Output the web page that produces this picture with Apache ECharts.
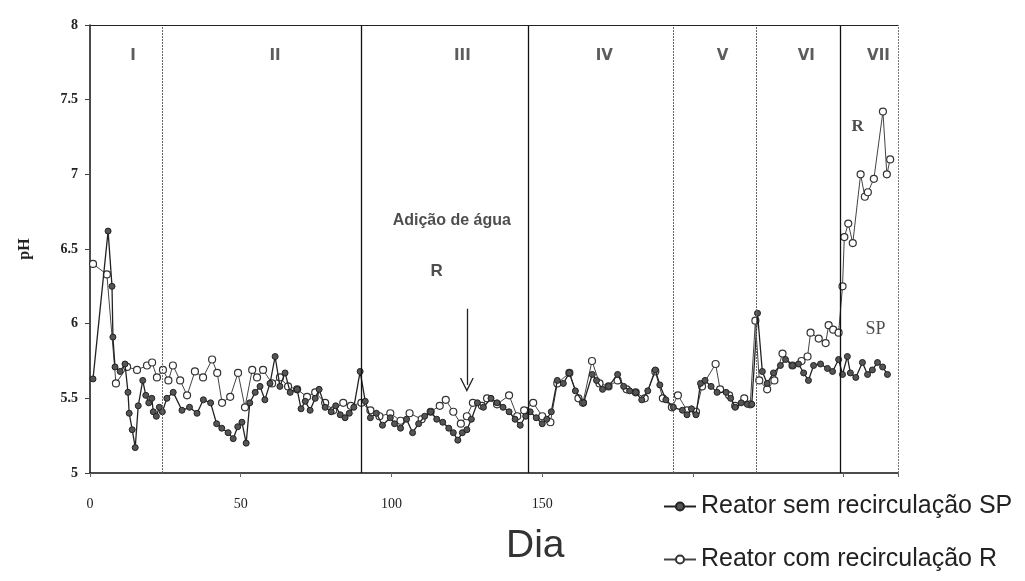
<!DOCTYPE html>
<html>
<head>
<meta charset="utf-8">
<script src="https://cdn.jsdelivr.net/npm/echarts@6/dist/echarts.min.js"></script>
<style>
html,body{margin:0;padding:0;background:#fff;}
#chart{width:1025px;height:581px;}
</style>
</head>
<body>
<div id="chart"></div>
<script>
// Reator sem recirculação (SP): [dia, pH]
const spData = [
  [1,5.63],[6,6.62],[7.3,6.25],[7.6,5.91],[8.3,5.71],[10,5.68],[11.6,5.73],[12.6,5.54],[13,5.4],[14,5.29],[15,5.17],[16,5.45],[17.5,5.62],[18.5,5.52],[19.5,5.47],[20.5,5.5],[21,5.41],[22,5.38],[23,5.44],[24,5.41],
  [25.5,5.5],[27.6,5.54],[30.5,5.42],[33,5.44],[35.5,5.4],[37.6,5.49],[40,5.47],[42,5.33],[43.7,5.3],[45.8,5.27],[47.5,5.23],[49,5.31],[50.4,5.34],[51.8,5.2],[53,5.47],[54.8,5.54],[56.4,5.58],[58,5.49],[59.7,5.6],[61.4,5.78],[63,5.58],[64.7,5.67],[66.4,5.54],[68.7,5.56],[70,5.43],[71.4,5.48],[73,5.42],[74.7,5.5],[76,5.56],[78,5.44],[80,5.41],[81.5,5.45],[83,5.39],[84.6,5.37],[86,5.4],[87.5,5.44],[89.6,5.68],
  [91.3,5.48],[93,5.37],[95,5.4],[97,5.32],[99.6,5.37],[101,5.33],[103,5.3],[105,5.36],[107,5.27],[109,5.33],[111,5.38],[113,5.41],[115,5.36],[117,5.34],[119,5.3],[120.5,5.27],[122,5.22],[123.5,5.27],[125,5.29],[126.5,5.36],[128.5,5.47],[130.5,5.44],[133,5.5],[135,5.47],[137,5.44],[139,5.41],[141,5.36],[142.7,5.32],[144.5,5.38],[146,5.41],[148,5.37],[150,5.33],[151.5,5.36],[153,5.41],
  [155,5.62],[157,5.6],[159,5.67],[161,5.55],[163.7,5.47],[166.6,5.66],[168,5.62],[170,5.56],[172,5.58],[175,5.66],[177,5.58],[179,5.55],[181,5.54],[183,5.49],[185,5.55],[187.5,5.69],[189,5.59],[191,5.49],[193.5,5.44],
  [196.5,5.42],[198,5.39],[199.5,5.43],[201,5.39],[202.5,5.6],[204,5.62],[206,5.58],[208,5.54],[211,5.54],[212.5,5.5],[214,5.44],[216,5.47],[218,5.46],[219.5,5.46],[221.4,6.07],
  [223,5.68],[224.6,5.6],[226.7,5.67],[229,5.72],[230.7,5.76],[233,5.72],[235,5.73],[236.7,5.67],[238.3,5.62],[240,5.72],[242.3,5.73],[244.6,5.7],[246.3,5.68],[248.3,5.76],
  [249.6,5.66],[251.2,5.78],[252.2,5.67],[254,5.64],[256.2,5.74],[257.9,5.66],[259.5,5.69],[261.2,5.74],[262.9,5.71],[264.5,5.66]
];
// Reator com recirculação (R): [dia, pH]
const rData = [
  [1,6.4],[5.6,6.33],[8.6,5.6],[12.3,5.71],[15.6,5.69],[18.9,5.72],[20.6,5.74],[22.2,5.64],[24.2,5.69],[26,5.62],[27.5,5.72],[29.9,5.62],[32.2,5.52],[34.8,5.68],[37.5,5.64],[40.5,5.76],[42.2,5.67],[43.8,5.47],[46.5,5.51],[49.1,5.67],[51.4,5.44],[53.8,5.69],[55.4,5.64],[57.4,5.69],[60.4,5.6],[63,5.64],[65.7,5.58],[68.7,5.56],[72,5.51],[74.7,5.54],[78,5.47],[80.7,5.42],[84,5.47],[86.5,5.45],
  [90,5.47],[93,5.42],[96,5.38],[99.6,5.4],[103,5.35],[106,5.4],[110,5.36],[113,5.41],[116,5.45],[118,5.49],[120.5,5.41],[123,5.33],[125,5.38],[127,5.47],[130,5.45],[131.7,5.5],[135,5.46],[139,5.52],[141.7,5.38],[144,5.42],[147,5.47],[150,5.38],[152.7,5.34],
  [155,5.6],[159,5.67],[162,5.5],[163.5,5.47],[166.5,5.75],[169,5.6],[172,5.58],[175,5.62],[178,5.56],[181,5.54],[184,5.5],[187.5,5.68],[190,5.5],[193,5.44],[195,5.52],[198,5.42],[201,5.41],[203,5.58],[207.5,5.73],[209,5.56],[212,5.52],[214,5.45],[217,5.5],[219,5.46],[220.7,6.02],
  [222,5.62],[224.6,5.56],[227,5.62],[229.7,5.8],[233,5.72],[236,5.75],[238,5.78],[239,5.94],[241.7,5.9],[244,5.87],[245,5.99],[246.5,5.96],[248.3,5.94],
  [249.6,6.25],[250.2,6.58],[251.5,6.67],[253,6.54],[255.6,7.0],[257,6.85],[258,6.88],[260,6.97],[263,7.42],[264.3,7.0],[265.4,7.1]
];
// Phase boundaries (days) and labels
const phaseBounds = [24, 90, 145.4, 193.5, 221, 248.8];
const phaseSolid = [false, true, true, false, false, true];
const phaseNames = ['I','II','III','IV','V','VI','VII'];
const phaseLabelDays = [14.3, 61.4, 123.5, 170.6, 209.8, 237.6, 261.5];
const xTicks = [0, 50, 100, 150];

const serif = '"Liberation Serif","DejaVu Serif",serif';
const narrow = '"Liberation Sans Narrow","Liberation Sans",Arial,sans-serif';

const boundLines = phaseBounds.map((d, i) => ({
  xAxis: d,
  lineStyle: phaseSolid[i]
    ? {color: '#111', width: 1.3, type: 'solid'}
    : {color: '#666', width: 1, type: [2, 1]}
}));
boundLines.push({xAxis: 268, lineStyle: {color: '#777', width: 1, type: [2, 1]}});
boundLines.push({yAxis: 8, lineStyle: {color: '#222', width: 1.2, type: 'solid'}});

const phaseLabelData = phaseNames.map((n, i) => ({value: [phaseLabelDays[i], 7.79], label: {formatter: n}}));

const chart = echarts.init(document.getElementById('chart'));
chart.setOption({
  backgroundColor: '#fff',
  animation: false,
  grid: {left: 90, right: 127, top: 25, bottom: 108, containLabel: false},
  xAxis: {
    type: 'value', min: 0, max: 268, interval: 50,
    axisLine: {lineStyle: {color: '#111', width: 1.5}},
    axisTick: {show: true, length: 4, inside: false, lineStyle: {color: '#666'}},
    axisLabel: {
      margin: 24, color: '#222', fontFamily: serif, fontSize: 14,
      formatter: v => xTicks.indexOf(v) >= 0 ? String(v) : ''
    },
    splitLine: {show: false}
  },
  yAxis: {
    type: 'value', min: 5, max: 8, interval: 0.5,
    name: 'pH', nameLocation: 'middle', nameGap: 57, nameRotate: 90,
    nameTextStyle: {fontFamily: serif, fontWeight: 'bold', fontSize: 16, color: '#222'},
    axisLine: {show: true, lineStyle: {color: '#111', width: 1.5}},
    axisTick: {show: true, length: 5, lineStyle: {color: '#444'}},
    axisLabel: {margin: 12, color: '#222', fontFamily: serif, fontSize: 14, fontWeight: 'bold',
      formatter: v => String(v)},
    splitLine: {show: false}
  },
  legend: {
    orient: 'vertical', left: 658, top: 489, itemGap: 28, itemWidth: 32, itemHeight: 10,
    textStyle: {fontFamily: narrow, fontSize: 25, color: '#222'},
    data: ['Reator sem recirculação SP', 'Reator com recirculação R']
  },
  graphic: [
    {type: 'text', left: 506, top: 527, style: {text: 'Dia', font: '39px "Liberation Sans", Arial, sans-serif', fill: '#333'}}
  ],
  series: [
    {
      name: 'Reator sem recirculação SP', type: 'line', data: spData,
      symbol: 'circle', symbolSize: 6,
      itemStyle: {color: '#555', borderColor: '#222', borderWidth: 1},
      lineStyle: {color: '#222', width: 1.3},
      z: 3,
      markLine: {silent: true, symbol: 'none', label: {show: false}, data: boundLines}
    },
    {
      name: 'Reator com recirculação R', type: 'line', data: rData,
      symbol: 'circle', symbolSize: 7,
      itemStyle: {color: '#fff', borderColor: '#333', borderWidth: 1.2},
      lineStyle: {color: '#444', width: 1},
      z: 2,
      markLine: {
        silent: true,
        symbol: ['none', 'path://M0,10 L5,0 L10,10 L9,10 L5,2 L1,10 Z'],
        symbolSize: 14,
        label: {show: false},
        lineStyle: {color: '#222', width: 1.3, type: 'solid'},
        itemStyle: {color: '#222'},
        data: [[{coord: [125, 6.1]}, {coord: [125, 5.59]}]]
      }
    },
    {
      type: 'scatter', data: phaseLabelData, symbolSize: 0, silent: true,
      label: {show: true, position: 'inside', fontFamily: '"DejaVu Sans", sans-serif', fontWeight: 'bold', fontSize: 15, color: '#333'}
    },
    {
      type: 'scatter', symbolSize: 0, silent: true,
      data: [
        {value: [120, 6.69], label: {formatter: 'Adição de água', fontFamily: '"Liberation Sans", Arial, sans-serif', fontWeight: 'bold', fontSize: 16}},
        {value: [115, 6.35], label: {formatter: 'R', fontFamily: '"Liberation Sans", Arial, sans-serif', fontWeight: 'bold', fontSize: 17}},
        {value: [254.6, 7.32], label: {formatter: 'R', fontFamily: serif, fontWeight: 'bold', fontSize: 17}},
        {value: [260.5, 5.96], label: {formatter: 'SP', fontFamily: serif, fontSize: 18}}
      ],
      label: {show: true, position: 'inside', color: '#222'}
    }
  ]
});
</script>
</body>
</html>
